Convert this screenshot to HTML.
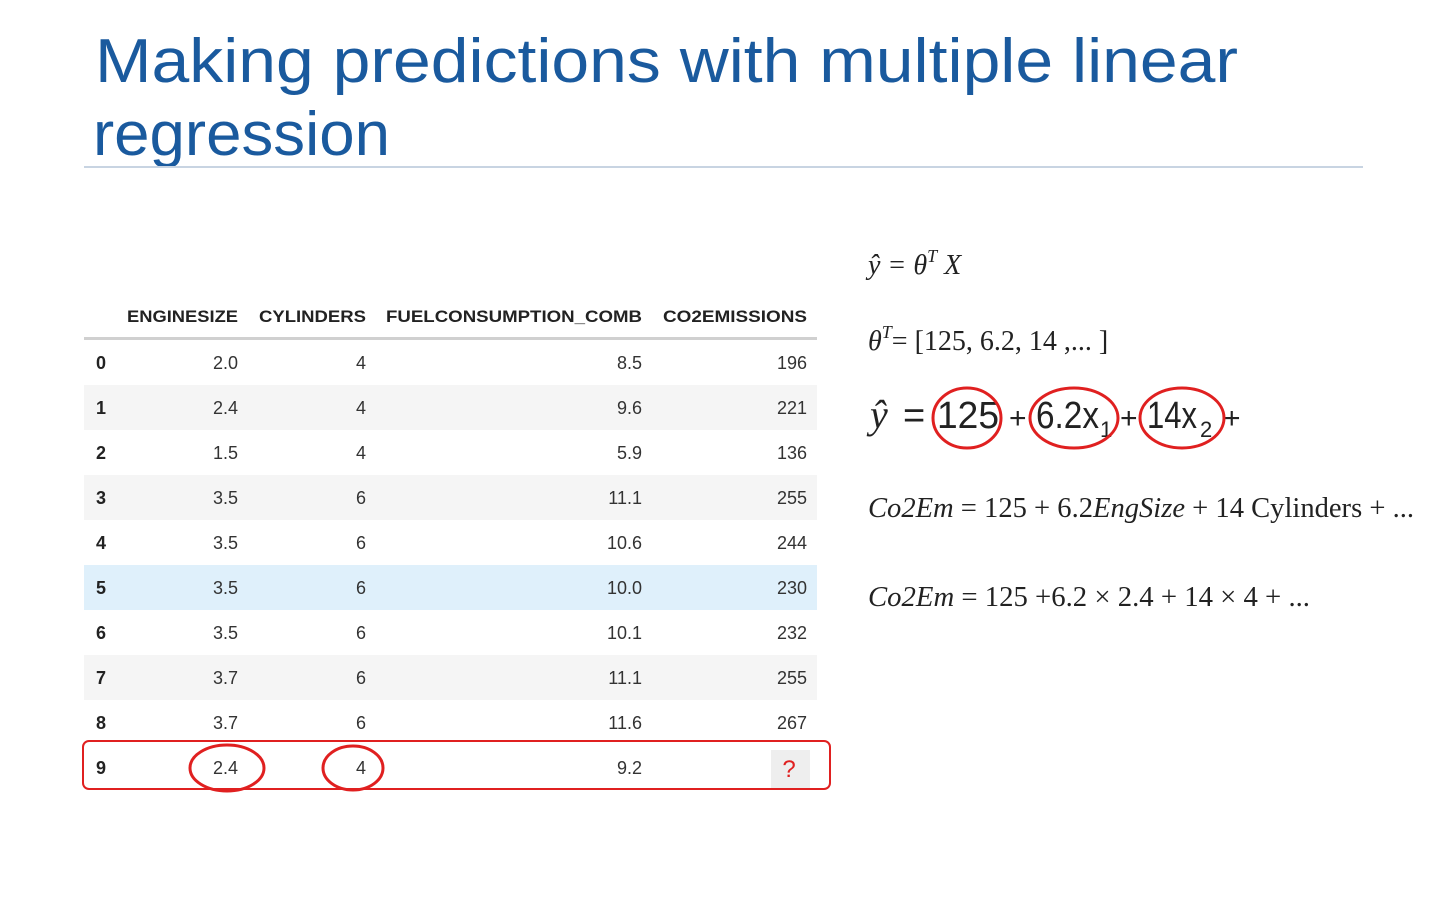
<!DOCTYPE html>
<html><head><meta charset="utf-8"><style>
html,body{margin:0;padding:0;background:#fff;width:1440px;height:900px;overflow:hidden}
svg{display:block}
.t{font-family:"Liberation Sans",sans-serif}
.s{font-family:"Liberation Serif",serif}
</style></head><body>
<svg width="1440" height="900" viewBox="0 0 1440 900">
<text class="t" x="95" y="82" font-size="62" fill="#1a5a9e" textLength="1143" lengthAdjust="spacingAndGlyphs">Making predictions with multiple linear</text>
<text class="t" x="93" y="155" font-size="62" fill="#1a5a9e" textLength="297" lengthAdjust="spacingAndGlyphs">regression</text>
<line x1="84" y1="167" x2="1363" y2="167" stroke="#c8d4e2" stroke-width="2"/>
<g id="table"></g>
<g>
<text class="s" x="868" y="274" font-size="28" font-style="italic" fill="#222">ŷ = θ<tspan font-size="18" dy="-12">T</tspan><tspan dy="12"> X</tspan></text>
<text class="s" x="868" y="350" font-size="28" fill="#222"><tspan font-style="italic">θ</tspan><tspan font-style="italic" font-size="18" dy="-12">T</tspan><tspan dy="12">= [125, 6.2, 14 ,... ]</tspan></text>
<g font-size="38" fill="#222" class="t">
<text class="s" x="870" y="428" font-style="italic" font-size="40">ŷ</text>
<text x="903" y="428">=</text>
<text x="937" y="428" textLength="62" lengthAdjust="spacingAndGlyphs">125</text>
<text x="1009" y="428" font-size="30">+</text>
<text x="1036" y="428" textLength="63" lengthAdjust="spacingAndGlyphs">6.2x</text>
<text x="1100" y="437" font-size="22">1</text>
<text x="1120" y="428" font-size="30">+</text>
<text x="1147" y="428" textLength="50" lengthAdjust="spacingAndGlyphs">14x</text>
<text x="1200" y="437" font-size="22">2</text>
<text x="1223" y="428" font-size="30">+</text>
</g>
<ellipse cx="967" cy="418" rx="34" ry="30" fill="none" stroke="#e02020" stroke-width="3"/>
<ellipse cx="1074" cy="418" rx="44" ry="30" fill="none" stroke="#e02020" stroke-width="3"/>
<ellipse cx="1182" cy="418" rx="42" ry="30" fill="none" stroke="#e02020" stroke-width="3"/>
<text class="s" x="868" y="517" font-size="28" fill="#222" textLength="546" lengthAdjust="spacingAndGlyphs"><tspan font-style="italic">Co2Em</tspan> = 125 + 6.2<tspan font-style="italic">EngSize</tspan> + 14 Cylinders + ...</text>
<text class="s" x="868" y="606" font-size="28" fill="#222" textLength="442" lengthAdjust="spacingAndGlyphs"><tspan font-style="italic">Co2Em</tspan> = 125 +6.2 × 2.4 + 14 × 4 + ...</text>
</g>
</svg>
<script>
const headers=["ENGINESIZE","CYLINDERS","FUELCONSUMPTION_COMB","CO2EMISSIONS"];
const engineSize=["2.0","2.4","1.5","3.5","3.5","3.5","3.5","3.7","3.7","2.4"];
const cylinders=["4","4","4","6","6","6","6","6","6","4"];
const fuelComb=["8.5","9.6","5.9","11.1","10.6","10.0","10.1","11.1","11.6","9.2"];
const co2=["196","221","136","255","244","230","232","255","267","?"];
const NS="http://www.w3.org/2000/svg";
const g=document.getElementById('table');
const colRight=[238,366,642,807];
const headerWidth=[111,107,256,144];
function mk(tag,attrs){const e=document.createElementNS(NS,tag);for(const k in attrs)e.setAttribute(k,attrs[k]);g.appendChild(e);return e;}
headers.forEach((h,i)=>{
  const t=mk('text',{x:colRight[i]-headerWidth[i],y:322,'font-size':17,'font-weight':'bold',fill:'#222',class:'t',textLength:headerWidth[i],lengthAdjust:'spacingAndGlyphs'});
  
  
  t.textContent=h;
});
const hl=mk('rect',{x:84,y:337,width:733,height:3,fill:'#d0d0d0'});


const cols=[engineSize,cylinders,fuelComb,co2];
for(let r=0;r<engineSize.length;r++){
  const top=340+r*45;
  if((r%2===1&&r<engineSize.length-1)||r===5){
    const bg=mk('rect',{x:84,y:top,width:733,height:45,fill:r===5?'#dff0fb':'#f5f5f5'});
    
    
  }
  const idx=mk('text',{x:96,y:top+29,'font-size':18,'font-weight':'bold',fill:'#222',class:'t'});
  
  
  idx.textContent=r;
  cols.forEach((c,i)=>{
    const v=c[r];
    if(v==='?'){
      const q=mk('rect',{x:771,y:top+5,width:39,height:38,fill:'#eeeeee'});
      
      
      const t=mk('text',{x:789,y:top+32,'text-anchor':'middle','font-size':24,fill:'#e02020',class:'t'});
      
      
      t.textContent='?';
      return;
    }
    const t=mk('text',{x:colRight[i],y:top+29,'text-anchor':'end','font-size':18,fill:'#333',class:'t'});
    
    
    t.textContent=v;
  });
}
const box=mk('rect',{x:83,y:741,width:747,height:48,rx:6,fill:'none',stroke:'#e02020','stroke-width':2});


const e1=mk('ellipse',{cx:227,cy:768,rx:37,ry:23,fill:'none',stroke:'#e02020','stroke-width':3});


const e2=mk('ellipse',{cx:353,cy:768,rx:30,ry:22,fill:'none',stroke:'#e02020','stroke-width':3});


</script>
</body></html>
